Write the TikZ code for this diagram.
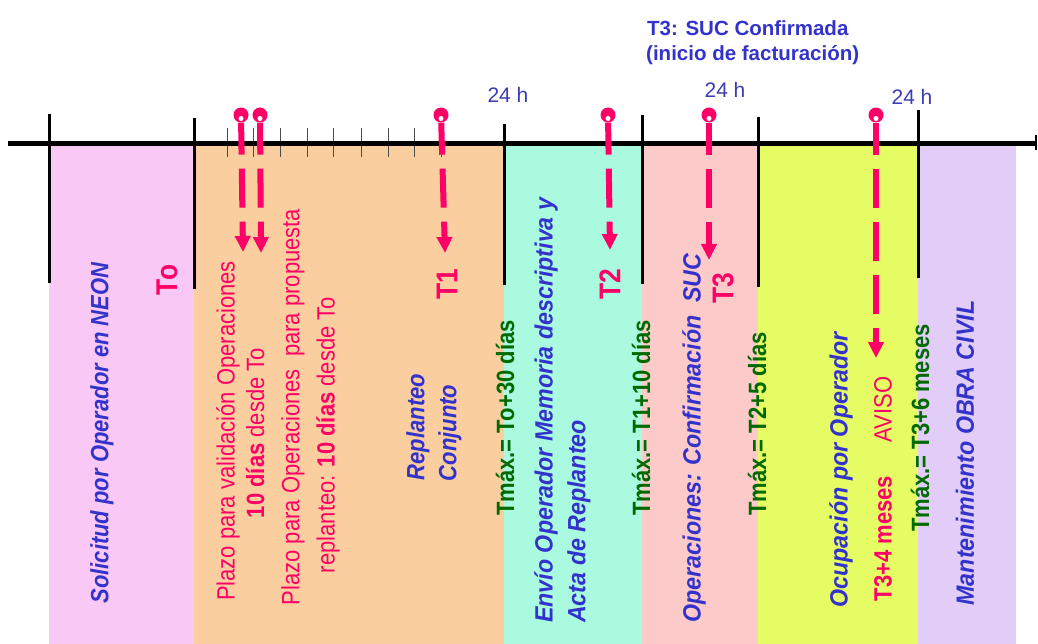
\documentclass[tikz,border=0pt]{standalone}
\usepackage{fontspec}
\setmainfont{Liberation Sans}
\usepackage{graphicx}
\usetikzlibrary{arrows.meta}
\definecolor{mag}{RGB}{255,0,102}
\definecolor{blu}{RGB}{51,51,204}
\definecolor{hblu}{RGB}{60,60,180}
\definecolor{grn}{RGB}{0,105,0}
\definecolor{bpink}{RGB}{250,200,245}
\definecolor{borange}{RGB}{250,206,158}
\definecolor{baqua}{RGB}{170,250,224}
\definecolor{bsalmon}{RGB}{253,202,202}
\definecolor{byellow}{RGB}{230,252,100}
\definecolor{blav}{RGB}{225,205,248}
\newcommand{\cnd}[1]{\scalebox{0.88}[1]{#1}}
\newcommand{\cndw}[1]{\scalebox{0.93}[1]{#1}}
\begin{document}
\begin{tikzpicture}[x=1pt,y=-1pt,
  vtext/.style={rotate=90, inner sep=0pt},
  bluetext/.style={vtext, text=blu, font=\fontsize{25}{28}\selectfont\bfseries\itshape},
  grntext/.style={vtext, text=grn, font=\fontsize{25}{28}\selectfont\bfseries},
  magtext/.style={vtext, text=mag, font=\fontsize{25}{28}\selectfont},
  tlabel/.style={vtext, text=mag, font=\fontsize{30}{32}\selectfont\bfseries},
  toptext/.style={inner sep=0pt, anchor=west, text=blu, font=\fontsize{20.5}{22}\selectfont\bfseries},
  hlabel/.style={inner sep=0pt, text=hblu, font=\fontsize{21}{22}\selectfont},
  pinhead/.style={circle, fill=mag, minimum size=15pt, inner sep=0pt},
  dasharrow/.style={draw=mag, line width=6pt,
    dash pattern=on 32pt off 14pt on 39pt off 14pt on 39pt off 14pt on 39pt off 14pt on 39pt off 14pt,
    -{Triangle[length=16pt,width=15pt]}},
  divider/.style={line width=3pt},
  tickline/.style={line width=1pt, draw=black!70}]
\useasboundingbox (0,0) rectangle (1038,644);
% bands
\fill[bpink] (49,143) rectangle (194,644);
\fill[borange] (194,143) rectangle (504,644);
\fill[baqua] (504,143) rectangle (642,644);
\fill[bsalmon] (642,143) rectangle (758,644);
\fill[byellow] (758,143) rectangle (918,644);
\fill[blav] (918,143) rectangle (1016,644);
% dividers
\draw[divider] (49,114) -- (49,283);
\draw[divider] (194,118) -- (194,289);
\draw[divider] (504,124) -- (504,285);
\draw[divider] (642,115) -- (642,284);
\draw[divider] (758,117) -- (758,287);
\draw[divider] (918,110) -- (918,278);
% ticks
\foreach \x in {227,253,280,307,333,361,388,414,441}
  \draw[tickline] (\x,128) -- (\x,157);
% main axis
\draw[line width=5pt] (8,143.5) -- (1036,143.5);
\draw[line width=2.5pt] (1036,135) -- (1036,150);
% pins and arrows
\node[pinhead] (p1) at (241,115) {};
\node[pinhead] (p2) at (260,115) {};
\node[pinhead] (p3) at (441,115) {};
\node[pinhead] (p4) at (608,115) {};
\node[pinhead] (p5) at (709,115) {};
\node[pinhead] (p6) at (876,115) {};
\coordinate (a1) at (243,252);
\coordinate (a2) at (261,253);
\coordinate (a3) at (445,253);
\coordinate (a4) at (610,250);
\coordinate (a5) at (709,260);
\coordinate (a6) at (876,358);
\draw[dasharrow] (p1) -- (a1);
\draw[dasharrow] (p2) -- (a2);
\draw[dasharrow] (p3) -- (a3);
\draw[dasharrow] (p4) -- (a4);
\draw[dasharrow] (p5) -- (a5);
\draw[dasharrow] (p6) -- (a6);
\foreach \p in {p1,p2,p3,p4,p5,p6}
  \fill[white] (\p.center) ++(0,3.5) circle[radius=2.5pt];
% top labels
\node[toptext] (ttop1) at (647,28) {T3: SUC Confirmada};
\node[toptext] (ttop2) at (646,55) {(inicio de facturación)};
\node[hlabel] (h1) at (508,95) {24 h};
\node[hlabel] (h2) at (725,90) {24 h};
\node[hlabel] (h3) at (912,97) {24 h};
% band texts
\node[bluetext] (s1) at (102,433) {\cnd{Solicitud por Operador en NEON}};
\node[tlabel] (to) at (167,280) {\cnd{To}};
\node[magtext] (pl1) at (228,431) {\cnd{Plazo para validación Operaciones}};
\node[magtext] (pl2) at (255,433) {\cnd{\textbf{10 días} desde To}};
\node[magtext] (pl3) at (293,407) {\cnd{Plazo para Operaciones\ \ para propuesta}};
\node[magtext] (pl4) at (328,435) {\cnd{replanteo: \textbf{10 días} desde To}};
\node[bluetext] (rp1) at (418,427) {\cnd{Replanteo}};
\node[bluetext] (rp2) at (450,433) {\cnd{Conjunto}};
\node[tlabel] (t1) at (447,284) {\cnd{T1}};
\node[grntext] (g1) at (505,418) {\cnd{Tmáx.= To+30 días}};
\node[bluetext, anchor=west] (en1) at (546,623) {\cndw{Envío Operador Memoria descriptiva y}};
\node[bluetext, anchor=west] (en2) at (579,623) {\cndw{Acta de Replanteo}};
\node[tlabel] (t2) at (610,284) {\cnd{T2}};
\node[grntext] (g2) at (641,418) {\cnd{Tmáx.= T1+10 días}};
\node[bluetext] (op) at (694,438) {\cndw{Operaciones: Confirmación\ \ SUC}};
\node[tlabel] (t3) at (723,288) {\cnd{T3}};
\node[grntext] (g3) at (757,424) {\cnd{Tmáx.= T2+5 días}};
\node[bluetext] (oc) at (841,470) {\cndw{Ocupación por Operador}};
\node[magtext] (av) at (883,489) {\cnd{\textbf{T3+4 meses}\hspace{38pt}AVISO}};
\node[grntext] (g4) at (920,428) {\cnd{Tmáx.= T3+6 meses}};
\node[bluetext] (mt) at (965,453) {\cndw{Mantenimiento OBRA CIVIL}};
\end{tikzpicture}
\end{document}
